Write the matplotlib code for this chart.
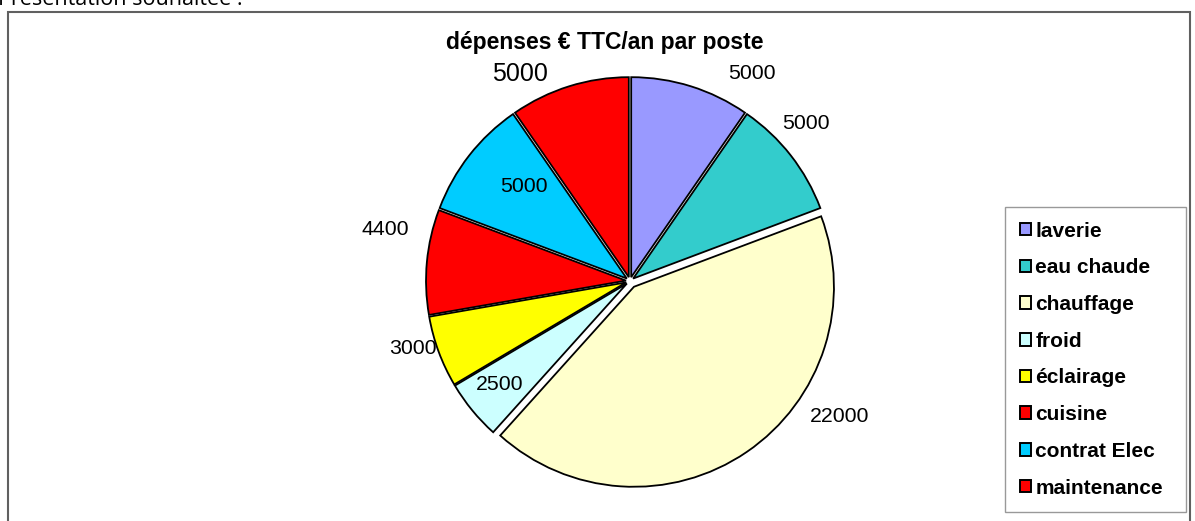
import matplotlib
matplotlib.use("Agg")
import matplotlib.pyplot as plt
from matplotlib.patches import Rectangle
import numpy as np

categories = ["laverie", "eau chaude", "chauffage", "froid", "éclairage",
              "cuisine", "contrat Elec", "maintenance"]
values = [5000, 5000, 22000, 2500, 3000, 4400, 5000, 5000]
value_labels = ["5000", "5000", "22000", "2500", "3000", "4400", "5000", "5000"]
title = "dépenses € TTC/an par poste"
header = "Présentation souhaitée :"

# styles / layout
colors = ["#9999FF", "#33CCCC", "#FFFFCC", "#CCFFFF", "#FFFF00",
          "#FF0000", "#00CCFF", "#FF0000"]
explode = [0.02, 0.02, 0.035, 0.02, 0.02, 0.02, 0.02, 0.02]
label_pos = [(0.61, 1.04), (0.88, 0.79), (1.05, -0.675), (-0.65, -0.52),
             (-1.085, -0.335), (-1.225, 0.26), (-0.53, 0.475), (-0.55, 1.035)]
label_size = [15.3, 15.3, 15.3, 15.3, 15.3, 15.3, 15.3, 18]

W, H = 1195, 521
fig = plt.figure(figsize=(W / 100, H / 100), dpi=100)
plt.rcParams['font.family'] = ['Liberation Sans', 'DejaVu Sans']

# outer frame
fig.patches.append(Rectangle((8 / W, -0.1), (1190 - 8) / W, 1.1 - 12 / H,
                             transform=fig.transFigure, fill=False,
                             edgecolor="#606060", linewidth=1.5))
fig.text(-0.002, 1 - 5 / H, header, fontsize=15.5, family="Open Sans",
         ha="left", va="baseline", color="black")

cx, cy, R = 630, 281, 200
ax = fig.add_axes([(cx - R) / W, (H - cy - R) / H, 2 * R / W, 2 * R / H])
wedges, _ = ax.pie(values, colors=colors, startangle=90, counterclock=False,
                   explode=explode,
                   wedgeprops=dict(edgecolor="black", linewidth=1.3))
ax.set_xlim(-1, 1)
ax.set_ylim(-1, 1)
ax.set_aspect("equal")
ax.axis("off")
for (x, y), t, s in zip(label_pos, value_labels, label_size):
    ax.text(x, y, t, fontsize=s, ha="center", va="center", clip_on=False)

fig.text(605 / W, 1 - 42 / H, title, fontsize=16.5, fontweight="bold",
         ha="center", va="center")

leg = fig.legend(wedges, categories, loc="upper left",
                 bbox_to_anchor=(1005 / W, 1 - 506 / H, 181 / W, 299 / H),
                 mode="expand",
                 prop=dict(weight="bold", size=15), frameon=True,
                 fancybox=False, edgecolor="#808080", handlelength=0.55,
                 handleheight=0.55, handletextpad=0.2, labelspacing=0.85,
                 borderpad=0.7, borderaxespad=0)
leg._legend_box.align = "left"
leg.get_frame().set_linewidth(1.0)
for h in leg.legend_handles:
    h.set_linewidth(1.4)

fig.savefig("out.png", dpi=100)
